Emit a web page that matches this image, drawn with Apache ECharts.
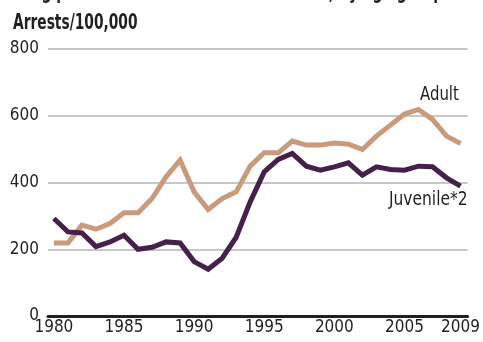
<!DOCTYPE html>
<html>
<head>
<meta charset="utf-8">
<script src="https://cdn.jsdelivr.net/npm/echarts@6/dist/echarts.min.js"></script>
<style>
  html, body { margin: 0; padding: 0; background: #fff; }
  #chart { width: 483px; height: 342px; }
</style>
</head>
<body>
<div id="chart"></div>
<script>
// Arrest rates per 100,000 population, 1980–2009
const years = [
  1980, 1981, 1982, 1983, 1984, 1985, 1986, 1987, 1988, 1989,
  1990, 1991, 1992, 1993, 1994, 1995, 1996, 1997, 1998, 1999,
  2000, 2001, 2002, 2003, 2004, 2005, 2006, 2007, 2008, 2009
];
const adult = [
  219, 219, 272, 260, 277, 309, 309, 352, 417, 467,
  372, 319, 352, 372, 449, 489, 489, 524, 512, 512,
  518, 515, 499, 539, 572, 605, 619, 589, 539, 517
];
// Juvenile rate shown doubled
const juvenileX2 = [
  292, 252, 249, 208, 222, 242, 200, 206, 222, 219,
  163, 140, 173, 236, 342, 432, 469, 487, 449, 437,
  447, 459, 422, 447, 439, 437, 449, 447, 414, 389
];
const yearLabels = [1980, 1985, 1990, 1995, 2000, 2005, 2009];
const yTicks = [0, 200, 400, 600, 800];

const FONT = '"DejaVu Sans Condensed", "Liberation Sans", sans-serif';
const INK = '#231f20';

const chart = echarts.init(document.getElementById('chart'), null, { renderer: 'canvas' });

const pair = (vals) => years.map((y, i) => [y, vals[i]]);

// condensed text block: narrowed horizontally, full height kept
const narrowText = (text, x, y, font, sx) => ({
  type: 'text',
  x: x,
  y: y,
  scaleX: sx,
  style: { text: text, font: font, fill: INK, textVerticalAlign: 'top' }
});

chart.setOption({
  animation: false,
  backgroundColor: '#ffffff',
  grid: { left: 48, right: 12, top: 49, bottom: 26, containLabel: false },
  xAxis: {
    type: 'value',
    min: 1979.58,
    max: 2009.5,
    axisLine: { show: true, lineStyle: { color: INK, width: 3 } },
    axisTick: { show: false },
    splitLine: { show: false },
    axisLabel: {
      customValues: yearLabels,
      formatter: (v) => String(v),
      color: INK,
      fontFamily: FONT,
      fontSize: 17,
      margin: 3,
      verticalAlign: 'top'
    }
  },
  yAxis: {
    type: 'value',
    min: 0,
    max: 800,
    interval: 200,
    axisLine: { show: false },
    axisTick: { show: false },
    splitLine: { show: true, lineStyle: { color: '#b4b4b4', width: 1.5 } },
    axisLabel: {
      customValues: yTicks,
      color: INK,
      fontFamily: FONT,
      fontSize: 17,
      margin: 9
    }
  },
  series: [
    {
      name: 'Adult',
      type: 'line',
      data: pair(adult),
      symbol: 'none',
      lineStyle: { color: '#c99a7c', width: 5, join: 'miter' },
      z: 2
    },
    {
      name: 'Juvenile*2',
      type: 'line',
      data: pair(juvenileX2),
      symbol: 'none',
      lineStyle: { color: '#45204b', width: 5, join: 'miter' },
      z: 3
    }
  ],
  graphic: [
    narrowText('Drug possession arrest rates in the U.S., by age group', 13, -17, 'bold 21px ' + FONT, 0.74),
    narrowText('Arrests/100,000', 13, 13, 'bold 21px ' + FONT, 0.73),
    narrowText('Adult', 420, 85, '20px ' + FONT, 0.83),
    narrowText('Juvenile*2', 389, 190, '20px ' + FONT, 0.86)
  ]
});
</script>
</body>
</html>
